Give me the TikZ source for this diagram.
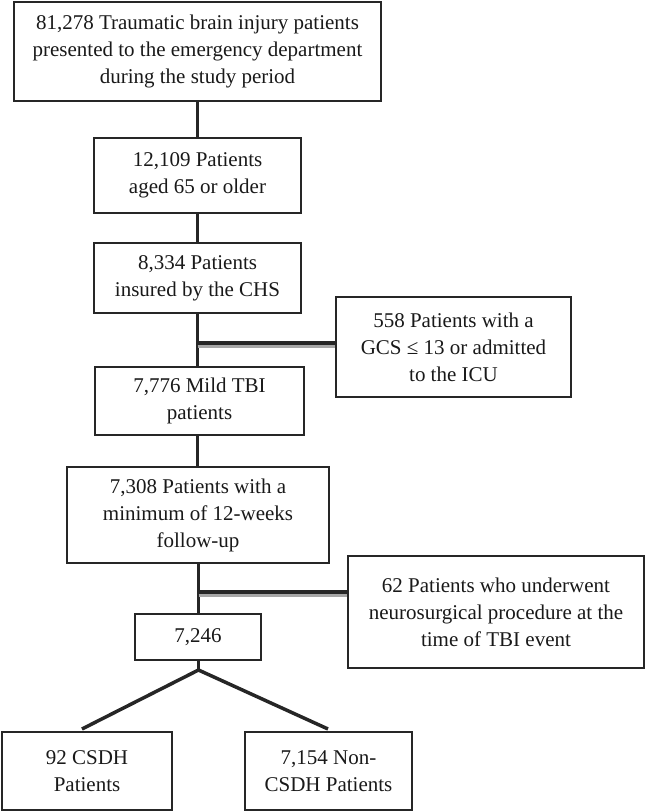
\documentclass[tikz,border=0pt]{standalone}
\usepackage{fontspec}
\setmainfont{Liberation Serif}
\begin{document}
\begin{tikzpicture}[x=1pt,y=-1pt,
  box/.style={draw=black!85, line width=2pt, inner sep=0pt, align=center,
    font=\fontsize{21}{27}\selectfont, text=black!90},
  conn/.style={draw=black!85, line width=3.5pt},
  shade/.style={draw=black!35, line width=3pt}]
\useasboundingbox (0,0) rectangle (646,811);

\node[box, minimum width=367pt, minimum height=99pt] (b1) at (197.5,51.5)
  {81,278 Traumatic brain injury patients\\presented to the emergency department\\during the study period};
\node[box, minimum width=207pt, minimum height=75pt] (b2) at (197.5,175.5)
  {12,109 Patients\\aged 65 or older};
\node[box, minimum width=207pt, minimum height=70pt] (b3) at (197.5,278)
  {8,334 Patients\\insured by the CHS};
\node[box, minimum width=235pt, minimum height=100pt] (b558) at (453.5,347)
  {558 Patients with a\\GCS ≤ 13 or admitted\\to the ICU};
\node[box, minimum width=209pt, minimum height=68pt] (b4) at (199.5,401)
  {7,776 Mild TBI\\patients};
\node[box, minimum width=262pt, minimum height=96pt] (b5) at (198,515)
  {7,308 Patients with a\\minimum of 12-weeks\\follow-up};
\node[box, minimum width=296pt, minimum height=112pt] (b62) at (496,612)
  {62 Patients who underwent\\neurosurgical procedure at the\\time of TBI event};
\node[box, minimum width=126pt, minimum height=46pt] (b6) at (198,637)
  {7,246};
\node[box, minimum width=170pt, minimum height=78pt] (b7) at (87,771)
  {92 CSDH\\Patients};
\node[box, minimum width=167pt, minimum height=78pt] (b8) at (328.5,771)
  {7,154 Non-\\CSDH Patients};

\coordinate (s) at (197.5,0);
\coordinate (j1) at (197.5,343);
\coordinate (j2) at (198.5,592);
\coordinate (apex) at (198.5,670);
\coordinate (f1) at (82,729);
\coordinate (f2) at (328,729);

% spine
\draw[conn] (b1.south -| s) -- (b2.north -| s);
\draw[conn] (b2.south -| s) -- (b3.north -| s);
\draw[conn] (b3.south -| s) -- (b4.north -| s);
\draw[conn] (b4.south -| s) -- (b5.north -| s);
\draw[conn] (b5.south -| j2) -- (b6.north -| j2);

% side branches with shading
\draw[shade] ([yshift=-3pt]j1) -- ([yshift=-3pt]j1 -| b558.west);
\draw[conn] (j1) -- (j1 -| b558.west);
\draw[shade] ([yshift=-3pt]j2) -- ([yshift=-3pt]j2 -| b62.west);
\draw[conn] (j2) -- (j2 -| b62.west);

% fork
\draw[conn, line width=3pt] (b6.south -| apex) -- (apex);
\draw[conn, line width=3.5pt, line join=round] (f1) -- (apex) -- (f2);
\end{tikzpicture}
\end{document}
